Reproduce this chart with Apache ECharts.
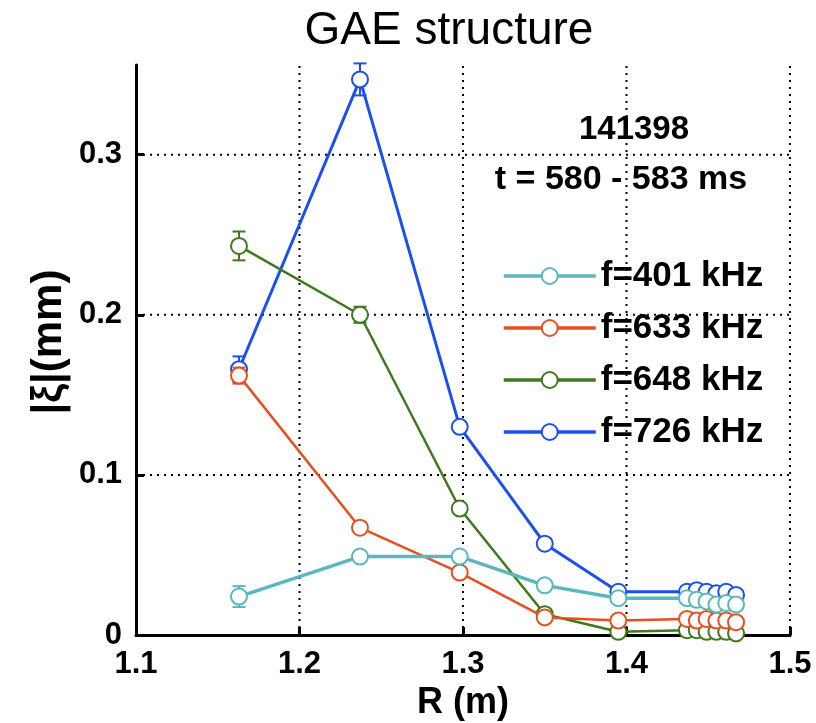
<!DOCTYPE html>
<html>
<head>
<meta charset="utf-8">
<script src="https://cdn.jsdelivr.net/npm/echarts@6/dist/echarts.min.js"></script>
<style>
html,body{margin:0;padding:0;background:#fff;}
#c{width:816px;height:723px;}
</style>
</head>
<body>
<div id="c"></div>
<script>
// ---- data ----
const R = [1.163, 1.237, 1.298, 1.35, 1.395, 1.437, 1.443, 1.449, 1.455, 1.461, 1.467];
const seriesNames = ['f=401 kHz', 'f=633 kHz', 'f=648 kHz', 'f=726 kHz'];
const xi401 = [0.024, 0.049, 0.049, 0.031, 0.023, 0.023, 0.022, 0.021, 0.019, 0.020, 0.019];
const xi633 = [0.162, 0.067, 0.039, 0.011, 0.009, 0.010, 0.009, 0.010, 0.009, 0.009, 0.008];
const xi648 = [0.243, 0.200, 0.079, 0.013, 0.002, 0.003, 0.003, 0.002, 0.002, 0.002, 0.001];
const xi726 = [0.166, 0.347, 0.130, 0.057, 0.027, 0.027, 0.028, 0.027, 0.026, 0.027, 0.025];
const err401 = [0.0065, 0.003, 0.003, 0.003, 0.002, 0.002, 0.002, 0.002, 0.002, 0.002, 0.002];
const err633 = [0.005, 0.003, 0.003, 0.003, 0.002, 0.002, 0.002, 0.002, 0.002, 0.002, 0.002];
const err648 = [0.009, 0.005, 0.003, 0.003, 0.002, 0.002, 0.002, 0.002, 0.002, 0.002, 0.002];
const err726 = [0.008, 0.010, 0.003, 0.003, 0.002, 0.002, 0.002, 0.002, 0.002, 0.002, 0.002];
const xTicks = [1.1, 1.2, 1.3, 1.4, 1.5];
const yTicks = [0, 0.1, 0.2, 0.3];
const xGrid = [1.2, 1.3, 1.4, 1.5];
const yGrid = [0.1, 0.2, 0.3];

const X_MIN = 1.1, X_MAX = 1.5, Y_MIN = 0, Y_MAX = 0.356;
const colors = ['#5ab7bd', '#e6501f', '#3e7a1b', '#1a4ff0'];
const widths = [3.5, 2.5, 2.5, 3];
const values = [xi401, xi633, xi648, xi726];
const errs = [err401, err633, err648, err726];

const FONT = '"Liberation Sans", Arial, sans-serif';
const chart = echarts.init(document.getElementById('c'));

const gridStyle = { stroke: '#000', lineWidth: 2, lineDash: [2, 5], fill: null };
const series = [];
// gridlines (vertical + horizontal)
series.push({
  type: 'custom', name: 'vgrid', z: 1, silent: true,
  data: xGrid.map(function (v) { return [v]; }),
  renderItem: function (params, api) {
    const v = api.value(0);
    const a = api.coord([v, Y_MIN]), b = api.coord([v, Y_MAX]);
    return { type: 'line', shape: { x1: a[0], y1: a[1], x2: b[0], y2: b[1] }, style: gridStyle };
  }
});
series.push({
  type: 'custom', name: 'hgrid', z: 1, silent: true,
  data: yGrid.map(function (v) { return [X_MIN, v]; }),
  renderItem: function (params, api) {
    const v = api.value(1);
    const a = api.coord([X_MIN, v]), b = api.coord([X_MAX, v]);
    return { type: 'line', shape: { x1: a[0], y1: a[1], x2: b[0], y2: b[1] }, style: gridStyle };
  }
});

const drawOrder = [3, 2, 1, 0];
drawOrder.forEach(function (k, idx) {
  const pts = R.map(function (r, i) { return [r, values[k][i]]; });
  const epts = R.map(function (r, i) { return [r, values[k][i], errs[k][i]]; });
  series.push({
    type: 'custom',
    name: seriesNames[k] + ' err',
    z: 2 + idx * 2,
    silent: true,
    renderItem: function (params, api) {
      const x = api.value(0), y = api.value(1), e = api.value(2);
      const t = api.coord([x, y + e]);
      const b = api.coord([x, y - e]);
      const w = 6.5;
      const st = { stroke: colors[k], lineWidth: 2, fill: null };
      return {
        type: 'group',
        children: [
          { type: 'line', shape: { x1: t[0], y1: t[1], x2: b[0], y2: b[1] }, style: st },
          { type: 'line', shape: { x1: t[0] - w, y1: t[1], x2: t[0] + w, y2: t[1] }, style: st },
          { type: 'line', shape: { x1: b[0] - w, y1: b[1], x2: b[0] + w, y2: b[1] }, style: st }
        ]
      };
    },
    data: epts
  });
  series.push({
    type: 'line',
    name: seriesNames[k],
    z: 3 + idx * 2,
    data: pts,
    symbol: 'emptyCircle',
    symbolSize: 16,
    showAllSymbol: true,
    lineStyle: { color: colors[k], width: widths[k] },
    itemStyle: { color: colors[k], borderColor: colors[k], borderWidth: 2.5 },
    animation: false
  });
});

const option = {
  animation: false,
  backgroundColor: '#ffffff',
  grid: { left: 136, right: 26, top: 65, bottom: 88, containLabel: false },
  xAxis: {
    type: 'value', min: X_MIN, max: X_MAX,
    axisLine: { show: true, lineStyle: { color: '#000', width: 3 } },
    axisTick: { show: true, inside: true, length: 8, customValues: xTicks, lineStyle: { color: '#000', width: 3 } },
    axisLabel: {
      color: '#000', fontFamily: FONT, fontWeight: 'bold', fontSize: 31, margin: 14,
      customValues: xTicks,
      formatter: function (v) { return Number(v).toFixed(1); }
    },
    splitLine: { show: false }
  },
  yAxis: {
    type: 'value', min: Y_MIN, max: Y_MAX,
    axisLine: { show: true, lineStyle: { color: '#000', width: 3 } },
    axisTick: { show: true, inside: true, length: 8, customValues: yTicks, lineStyle: { color: '#000', width: 3 } },
    axisLabel: {
      color: '#000', fontFamily: FONT, fontWeight: 'bold', fontSize: 31, margin: 14,
      customValues: yTicks,
      formatter: function (v) { return String(Math.round(v * 10) / 10); }
    },
    splitLine: { show: false }
  },
  legend: {
    orient: 'vertical',
    left: 497, top: 252,
    data: seriesNames,
    itemWidth: 92, itemHeight: 20, itemGap: 14,
    lineStyle: { width: 3.5 },
    textStyle: { color: '#000', fontFamily: FONT, fontWeight: 'bold', fontSize: 35, lineHeight: 38, padding: [0, 0, 0, 0] }
  },
  graphic: [
    { type: 'text', x: 449, y: 31, style: { text: 'GAE structure', font: '46px ' + FONT, fill: '#000', textAlign: 'center', textVerticalAlign: 'middle' } },
    { type: 'text', x: 634, y: 130, style: { text: '141398', font: 'bold 33px ' + FONT, fill: '#000', textAlign: 'center', textVerticalAlign: 'middle' } },
    { type: 'text', x: 621, y: 180, style: { text: 't = 580 - 583 ms', font: 'bold 34px ' + FONT, fill: '#000', textAlign: 'center', textVerticalAlign: 'middle' } },
    { type: 'text', x: 463, y: 703, style: { text: 'R (m)', font: 'bold 36px ' + FONT, fill: '#000', textAlign: 'center', textVerticalAlign: 'middle' } },
    { type: 'text', x: 49, y: 342, rotation: Math.PI / 2, style: { text: '|ξ|(mm)', font: 'bold 42px ' + FONT, fill: '#000', textAlign: 'center', textVerticalAlign: 'middle' } }
  ],
  series: series
};
chart.setOption(option);
</script>
</body>
</html>
